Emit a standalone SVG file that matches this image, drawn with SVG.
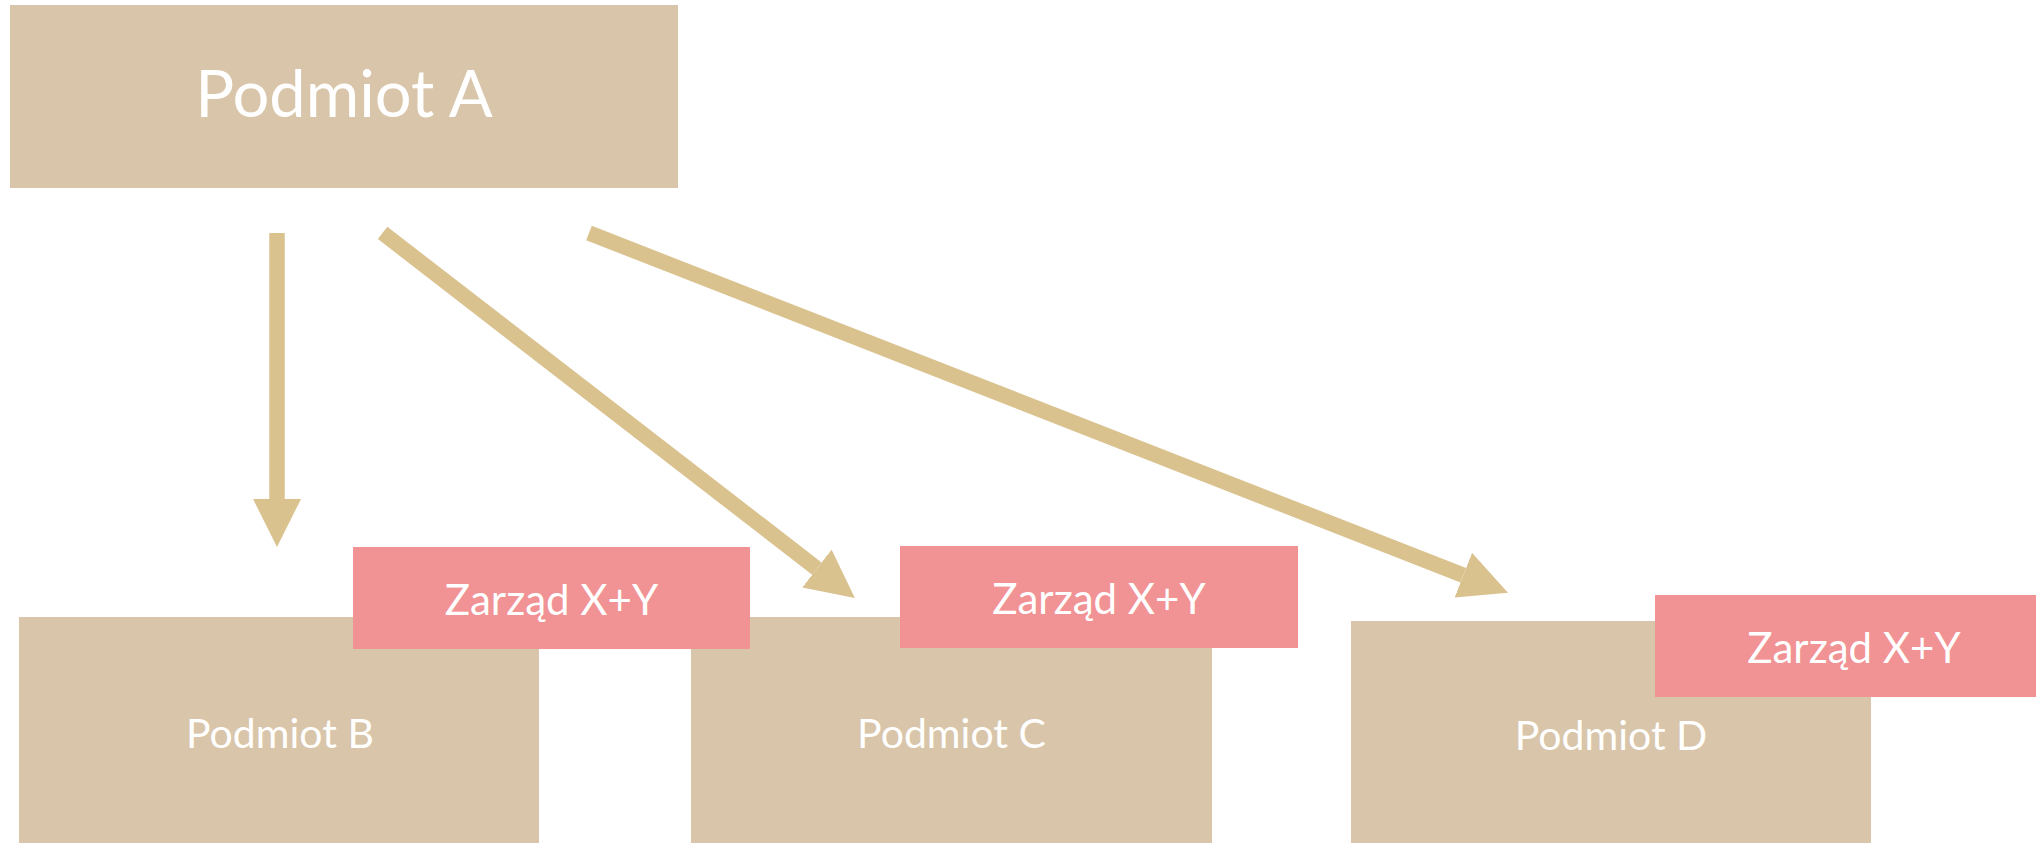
<svg xmlns="http://www.w3.org/2000/svg" width="2036" height="843" viewBox="0 0 2036 843">
<defs>
<style>
.tan{fill:#D9C5A9}
.pink{fill:#F19294}
.lbl{font-family:Lato,"Open Sans","Liberation Sans",sans-serif;fill:#FFFFFF;text-anchor:middle}
.big{font-size:65px}
.mid{font-size:41px}
.zar{font-size:42px}
.conn{stroke:#DAC28F;stroke-width:15.5;fill:none;stroke-linecap:butt}
</style>
<marker id="head" markerUnits="userSpaceOnUse" markerWidth="48" markerHeight="48" viewBox="0 0 48 48" refX="0" refY="24" orient="auto">
<path d="M0,0 L48,24 L0,48 Z" fill="#DAC28F"/>
</marker>
</defs>
<rect width="2036" height="843" fill="#FFFFFF"/>
<g id="podmiot-a">
<rect class="tan" x="10" y="5" width="668" height="183"/>
<text class="lbl big" x="344" y="117">Podmiot A</text>
</g>
<g id="connectors">
<line class="conn" x1="277" y1="233" x2="277" y2="499" marker-end="url(#head)"/>
<line class="conn" x1="382.6" y1="232.9" x2="816.9" y2="568.6" marker-end="url(#head)"/>
<line class="conn" x1="589" y1="233" x2="1463.3" y2="575.2" marker-end="url(#head)"/>
</g>
<g id="podmiot-b">
<rect class="tan" x="19" y="617" width="520" height="240"/>
<text class="lbl mid" x="280" y="748">Podmiot B</text>
</g>
<g id="podmiot-c">
<rect class="tan" x="691" y="617" width="521" height="240"/>
<text class="lbl mid" x="951.5" y="748">Podmiot C</text>
</g>
<g id="podmiot-d">
<rect class="tan" x="1351" y="621" width="520" height="240"/>
<text class="lbl mid" x="1611" y="750">Podmiot D</text>
</g>
<g id="zarzad-b">
<rect class="pink" x="353" y="547" width="397" height="102"/>
<text class="lbl zar" x="551.5" y="615">Zarząd X+Y</text>
</g>
<g id="zarzad-c">
<rect class="pink" x="900" y="546" width="398" height="102"/>
<text class="lbl zar" x="1099" y="614">Zarząd X+Y</text>
</g>
<g id="zarzad-d">
<rect class="pink" x="1655" y="595" width="398" height="102"/>
<text class="lbl zar" x="1854" y="663">Zarząd X+Y</text>
</g>
</svg>
